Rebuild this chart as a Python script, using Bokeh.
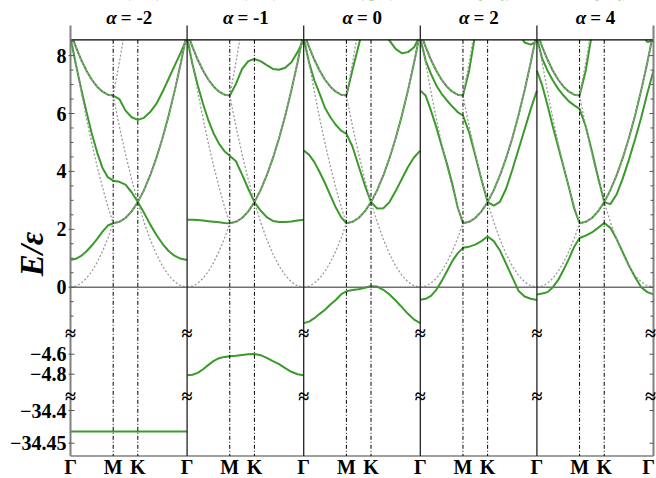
import math
from bokeh.plotting import figure
from bokeh.models import Range1d
from bokeh.embed import file_html
from bokeh.resources import INLINE
from bokeh.core.properties import value

# ---------------- data ----------------
alphas = ["-2", "-1", "0", "2", "4"]

# path coordinate along Γ-M-K-Γ (ΓM = 1)
kpath = [0.0, 0.125, 0.25, 0.375, 0.5, 0.625, 0.75, 0.875, 1.0,
         1.1443, 1.2887, 1.433, 1.5774,
         1.7217, 1.866, 2.0104, 2.1547, 2.299, 2.4434, 2.5877, 2.7321]
sym_pos = [0.0, 1.0, 1.5774, 2.7321]
sym_labels = ["Γ", "M", "K", "Γ"]

# free-electron reference bands (dotted)
free1 = [0.0, 0.034, 0.138, 0.31, 0.551, 0.861, 1.24, 1.688, 2.205, 2.251, 2.389, 2.618, 2.94,
         2.251, 1.654, 1.148, 0.735, 0.413, 0.184, 0.046, 0.0]
free2 = [8.82, 7.752, 6.753, 5.823, 4.961, 4.169, 3.445, 2.791, 2.205, 2.251, 2.389, 2.618, 2.94,
         3.353, 3.859, 4.456, 5.145, 5.926, 6.799, 7.763, 8.82]
free3 = [8.82, 8.303, 7.855, 7.476, 7.166, 6.925, 6.753, 6.649, 6.615, 5.558, 4.594, 3.721, 2.94,
         3.353, 3.859, 4.456, 5.145, 5.926, 6.799, 7.763, 8.82]
free4 = [8.82, 8.303, 7.855, 7.476, 7.166, 6.925, 6.753, 6.649, 6.615, 7.763, 9.004, 10.336, 11.76,
         11.07, 10.47, 9.97, 9.55, 9.23, 9.0, 8.87, 8.82]

# alpha = -2
am2_b1 = [0.94, 0.98, 1.08, 1.24, 1.44, 1.67, 1.92, 2.13, 2.21, 2.26, 2.39, 2.62, 2.94,
          2.57, 2.17, 1.81, 1.50, 1.25, 1.08, 0.98, 0.94]
am2_b2 = [8.62, 7.7, 6.85, 6.05, 5.3, 4.65, 4.12, 3.8, 3.68, 3.64, 3.54, 3.28, 2.94,
          3.353, 3.859, 4.456, 5.145, 5.926, 6.799, 7.763, 8.82]
am2_b3 = [8.82, 8.303, 7.855, 7.476, 7.166, 6.925, 6.753, 6.649, 6.62, 6.5, 6.1, 5.87, 5.78,
          5.85, 6.05, 6.33, 6.74, 7.2, 7.66, 8.12, 8.6]
am2_deep = [-34.432, -34.432, -34.432, -34.432]

# alpha = -1
am1_b1 = [2.33, 2.33, 2.32, 2.3, 2.28, 2.26, 2.24, 2.22, 2.21, 2.26, 2.39, 2.62, 2.94,
          2.65, 2.42, 2.29, 2.25, 2.25, 2.27, 2.3, 2.33]
am1_b2 = [8.6, 7.71, 6.97, 6.33, 5.76, 5.3, 4.95, 4.7, 4.54, 4.35, 3.89, 3.4, 2.94,
          3.353, 3.859, 4.456, 5.145, 5.926, 6.799, 7.763, 8.82]
am1_b3 = [8.82, 8.303, 7.855, 7.476, 7.166, 6.925, 6.753, 6.649, 6.62, 7.02, 7.54, 7.81, 7.88,
          7.81, 7.67, 7.54, 7.51, 7.58, 7.77, 8.12, 8.54]
am1_mid = [-4.81, -4.805, -4.787, -4.75, -4.707, -4.667, -4.64, -4.627, -4.62, -4.615, -4.607, -4.6, -4.597,
           -4.61, -4.636, -4.67, -4.7, -4.74, -4.776, -4.8, -4.81]

# alpha = 0
a0_b1 = [-1.24, -1.19, -1.07, -0.92, -0.78, -0.6, -0.44, -0.25, -0.14, -0.1, -0.07, -0.02, 0.035,
         0.02, -0.09, -0.25, -0.46, -0.69, -0.92, -1.12, -1.24]
a0_b2 = [4.72, 4.58, 4.32, 3.97, 3.59, 3.17, 2.76, 2.42, 2.21, 2.26, 2.39, 2.62, 2.94,
         2.72, 2.73, 2.94, 3.32, 3.74, 4.15, 4.49, 4.72]
a0_b3 = [8.6, 7.77, 7.14, 6.68, 6.19, 5.87, 5.61, 5.41, 5.3, 4.85, 4.18, 3.52, 2.94,
         3.353, 3.859, 4.456, 5.145, 5.926, 6.799, 7.763, 8.82]
a0_b4 = [8.82, 8.303, 7.855, 7.476, 7.166, 6.925, 6.753, 6.649, 6.62, 7.51, 8.36, 9.2, 10.0,
         9.6, 9.05, 8.52, 8.23, 8.08, 8.12, 8.29, 8.7]

# alpha = 2
a2_b1 = [-0.43, -0.4, -0.3, -0.09, 0.21, 0.55, 0.9, 1.17, 1.36, 1.4, 1.47, 1.59, 1.75,
         1.59, 1.27, 0.81, 0.35, -0.12, -0.32, -0.4, -0.44]
a2_b2 = [6.79, 6.62, 6.1, 5.53, 4.89, 4.26, 3.57, 2.76, 2.21, 2.26, 2.39, 2.62, 2.94,
         2.82, 2.95, 3.4, 4.05, 4.75, 5.45, 6.15, 6.79]
a2_b3 = [8.6, 7.83, 7.37, 6.97, 6.68, 6.45, 6.24, 6.05, 5.93, 5.35, 4.55, 3.72, 2.94,
         3.353, 3.859, 4.456, 5.145, 5.926, 6.799, 7.763, 8.82]
a2_b4 = [8.82, 8.303, 7.855, 7.476, 7.166, 6.925, 6.753, 6.649, 6.62, 7.48, 8.75, 10.0, 11.0,
         10.6, 10.1, 9.6, 9.2, 8.8, 8.45, 8.38, 8.5]

# alpha = 4
a4_b1 = [-0.25, -0.22, -0.17, 0.0, 0.25, 0.6, 0.98, 1.4, 1.7, 1.78, 1.89, 2.05, 2.22,
         2.05, 1.67, 1.21, 0.75, 0.35, 0.0, -0.17, -0.25]
a4_b2 = [7.48, 6.97, 6.28, 5.53, 4.84, 4.15, 3.45, 2.71, 2.21, 2.26, 2.39, 2.62, 2.94,
         2.87, 3.2, 3.75, 4.4, 5.1, 5.85, 6.7, 7.48]
a4_b3 = [8.6, 7.89, 7.48, 7.14, 6.85, 6.62, 6.42, 6.28, 6.16, 5.55, 4.7, 3.8, 2.94,
         3.353, 3.859, 4.456, 5.145, 5.926, 6.799, 7.763, 8.82]
a4_b4 = [8.82, 8.303, 7.855, 7.476, 7.166, 6.925, 6.753, 6.649, 6.62, 7.48, 8.75, 10.0, 11.0,
         10.6, 10.1, 9.7, 9.3, 9.0, 8.75, 8.47, 8.51]

panel_bands = [
    [am2_b1, am2_b2, am2_b3],
    [am1_b1, am1_b2, am1_b3],
    [a0_b1, a0_b2, a0_b3, a0_b4],
    [a2_b1, a2_b2, a2_b3, a2_b4],
    [a4_b1, a4_b2, a4_b3, a4_b4],
]
free_bands = [free1, free2, free3, free4]

ytick_E = [0, 2, 4, 6, 8, -4.6, -4.8, -34.4, -34.45]
ytick_labels = ["0", "2", "4", "6", "8", "−4.6", "−4.8", "−34.4", "−34.45"]
yminor_E = [-1.0, -0.5, 0.5, 1.0, 1.5, 2.5, 3.0, 3.5, 4.5, 5.0, 5.5, 6.5, 7.0, 7.5, 8.5]

# ---------------- layout (page pixels) ----------------
W, H = 656, 478
FL, FR = 70.0, 653.0          # panel area left / right
FT, FB = 39.3, 455.5          # panel area top / bottom
LINE_TOP = 25.0               # Γ lines reach above the top border
BREAK1, BREAK2 = 332.0, 395.8


def ymap(E):
    """broken energy axis -> display coordinate (= -page pixel)"""
    if E >= -2.5:
        py = 286.7 - 28.95 * E
    elif E >= -20:
        py = 353.7 + (-4.6 - E) * 100.0
    else:
        py = 410.0 + (-34.4 - E) * 654.0
    return -py


Lp = kpath[-1]
npan = len(alphas)
sx = (FR - FL) / (npan * Lp)      # pixels per path unit
GREEN = "#3a9a2a"
SERIF = "Liberation Serif"
XEND = npan * Lp

p = figure(width=W, height=H, x_range=Range1d(-FL / sx, (W - FL) / sx), y_range=Range1d(-H, 0),
           output_backend="svg", toolbar_location=None, x_axis_location=None,
           y_axis_location=None, min_border=0)
p.grid.visible = False
p.outline_line_color = None
p.background_fill_color = "white"
p.border_fill_color = "white"

# green bands
for i, bands in enumerate(panel_bands):
    xs = [i * Lp + k for k in kpath]
    for b in bands:
        p.line(xs, [ymap(e) for e in b], line_color=GREEN, line_width=2)
p.line([0 * Lp + k for k in sym_pos], [ymap(e) for e in am2_deep], line_color=GREEN, line_width=2)
p.line([1 * Lp + k for k in kpath], [ymap(e) for e in am1_mid], line_color=GREEN, line_width=2)

# dotted free-electron bands
for i in range(npan):
    xs = [i * Lp + k for k in kpath]
    for b in free_bands:
        p.line(xs, [ymap(e) for e in b], line_color="#9a9a9a", line_width=1.3, line_dash="2 2")

# mask everything above the top border of the panels
p.quad(left=-FL / sx, right=(W - FL) / sx, bottom=-FT, top=0, fill_color="white", line_color=None)

# horizontal frame lines
p.segment(x0=[0], y0=[-FT], x1=[XEND], y1=[-FT], line_color="black", line_width=1.2)
p.segment(x0=[0], y0=[-FB], x1=[XEND], y1=[-FB], line_color="#808080", line_width=1.5)
p.segment(x0=[0], y0=[ymap(0)], x1=[XEND], y1=[ymap(0)], line_color="#707070", line_width=1.5)

# M and K dash-dot lines
mk_x = [i * Lp + sp for i in range(npan) for sp in sym_pos[1:3]]
p.segment(x0=mk_x, y0=[-FT] * len(mk_x), x1=mk_x, y1=[-FB] * len(mk_x),
          line_color="black", line_width=1, line_dash="4 2 1 2")

# Γ lines (inner black, outer gray)
inner = [i * Lp for i in range(1, npan)]
p.segment(x0=inner, y0=[-LINE_TOP] * len(inner), x1=inner, y1=[-FB] * len(inner),
          line_color="#222222", line_width=1.3)
p.segment(x0=[0, XEND], y0=[-LINE_TOP] * 2, x1=[0, XEND], y1=[-FB] * 2,
          line_color="#808080", line_width=2)

# tick marks on left and right edges
maj = [ymap(e) for e in ytick_E]
mnr = [ymap(e) for e in yminor_E]
p.segment(x0=[-2 / sx] * len(maj), y0=maj, x1=[4 / sx] * len(maj), y1=maj,
          line_color="#555555", line_width=1)
p.segment(x0=[0] * len(mnr), y0=mnr, x1=[3 / sx] * len(mnr), y1=mnr,
          line_color="#555555", line_width=1)
p.segment(x0=[XEND - 4 / sx] * len(maj), y0=maj, x1=[XEND] * len(maj), y1=maj,
          line_color="#555555", line_width=1)
p.segment(x0=[XEND - 3 / sx] * len(mnr), y0=mnr, x1=[XEND] * len(mnr), y1=mnr,
          line_color="#555555", line_width=1)

# axis break marks (the right-most column nudged inwards so it stays on the page)
brk_style = dict(text_align="center", text_baseline="middle", text_font=value(SERIF),
                 text_font_size=value("20px"), text_font_style="bold", text_color="black")
bx = [i * Lp for i in range(npan)] * 2
by = [-BREAK1] * npan + [-BREAK2] * npan
p.text(x=bx, y=by, text=["≈"] * len(bx), **brk_style)
p.text(x=[XEND, XEND], y=[-BREAK1, -BREAK2], text=["≈", "≈"], x_offset=-3, **brk_style)

# y tick labels
p.text(x=[-4 / sx] * len(ytick_E), y=maj, text=ytick_labels, text_align="right",
       text_baseline="middle", text_font=value(SERIF), text_font_size=value("20px"),
       text_font_style="bold", text_color="black")

# x tick labels
lab_style = dict(text_align="center", text_baseline="middle", text_font=value(SERIF),
                 text_font_size=value("20px"), text_font_style="bold", text_color="black")
xt_pos = [i * Lp + sp for i in range(npan) for sp in sym_pos[:3]] + [XEND]
xt_lab = [lab for i in range(npan) for lab in sym_labels[:3]] + [sym_labels[3]]
p.text(x=xt_pos[:-1], y=[-466] * (len(xt_pos) - 1), text=xt_lab[:-1], **lab_style)
p.text(x=xt_pos[-1:], y=[-466], text=xt_lab[-1:], x_offset=-5, **lab_style)

# panel titles
cx = [(i + 0.5) * Lp for i in range(npan)]
for c, a in zip(cx, alphas):
    off = -12 if a.startswith("-") else -9
    p.text(x=[c], y=[-17], x_offset=off, text=["α"], text_align="right", text_baseline="middle",
           text_font=value(SERIF), text_font_size=value("19px"), text_font_style="bold italic",
           text_color="black")
    p.text(x=[c], y=[-17], x_offset=off + 4, text=["= " + a], text_align="left",
           text_baseline="middle", text_font=value(SERIF), text_font_size=value("19px"),
           text_font_style="bold", text_color="black")

# y axis label
p.text(x=[(31.5 - FL) / sx], y=[-253.5], text=["E/ε"], angle=math.pi / 2, text_align="center",
       text_baseline="middle", text_font=value(SERIF), text_font_size=value("33px"),
       text_font_style="bold italic", text_color="black")

open("out.html", "w").write(file_html(p, INLINE))
